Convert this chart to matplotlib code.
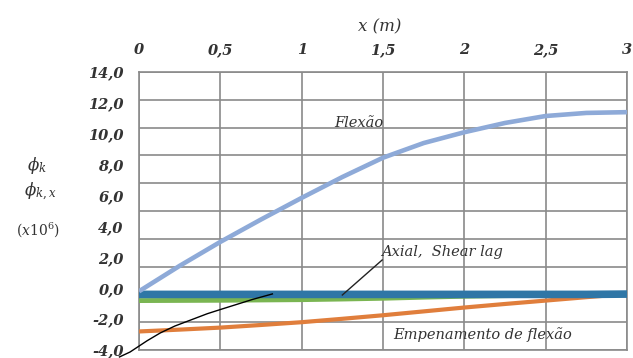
import numpy as np
import matplotlib
matplotlib.use("Agg")
import matplotlib.pyplot as plt

# valores (x em m, rotacoes x10^6)
x_pts = [0, 0.25, 0.5, 0.75, 1.0, 1.25, 1.5, 1.75, 2.0, 2.25, 2.5, 2.75, 3.0]
flexao = [-0.2, 1.45, 3.0, 4.45, 5.85, 7.2, 8.45, 9.4, 10.1, 10.7, 11.15, 11.35, 11.4]
axial = [-0.4, -0.4, -0.4, -0.4, -0.4, -0.4, -0.4, -0.4, -0.4, -0.4, -0.4, -0.4, -0.38]
shear_lag = [-0.8, -0.79, -0.78, -0.76, -0.74, -0.7, -0.65, -0.58, -0.52, -0.48, -0.45, -0.43, -0.42]
empenamento = [-2.8, -2.68, -2.55, -2.38, -2.2, -1.98, -1.75, -1.5, -1.25, -1.02, -0.8, -0.58, -0.37]

# linha de chamada preta (vem de fora do grafico)
leader_x = [-0.12, -0.055, 0.05, 0.13, 0.22, 0.32, 0.42, 0.50, 0.60, 0.70, 0.82]
leader_y = [-4.45, -4.13, -3.4, -2.9, -2.45, -2.05, -1.65, -1.38, -1.05, -0.72, -0.37]
# chamada do texto Axial, Shear lag
axial_arrow_x = [1.495, 1.25]
axial_arrow_y = [1.83, -0.44]

x_ticks = [0, 0.5, 1, 1.5, 2, 2.5, 3]
x_ticklabels = ["0", "0,5", "1", "1,5", "2", "2,5", "3"]
y_ticks = [14, 12, 10, 8, 6, 4, 2, 0, -2, -4]
y_ticklabels = ["14,0", "12,0", "10,0", "8,0", "6,0", "4,0", "2,0", "0,0", "-2,0", "-4,0"]

GRID = "#8a8a8a"
TXT = "#333333"

plt.rcParams["mathtext.fontset"] = "dejavuserif"
fig = plt.figure(figsize=(6.33, 3.58), dpi=100)
ax = fig.add_axes([139 / 633, 1 - 350 / 358, (627 - 139) / 633, (350 - 72) / 358])

ax.set_xlim(0, 3)
ax.set_ylim(-4, 14)

# grelha do Excel (10 divisoes na vertical, nao batem com os rotulos)
for gy in np.linspace(-4, 14, 11):
    ax.axhline(gy, color=GRID, lw=1.2, zorder=1)
for gx in x_ticks:
    ax.axvline(gx, color=GRID, lw=1.2, zorder=1)
for s in ax.spines.values():
    s.set_color(GRID)
    s.set_linewidth(1.2)

ax.plot(x_pts, empenamento, color="#e07e3c", lw=3.0, zorder=3, solid_capstyle="butt")
ax.plot(x_pts, shear_lag, color="#7ab552", lw=3.5, zorder=3, solid_capstyle="butt")
ax.plot(x_pts, axial, color="#2f76a6", lw=5.5, zorder=4, solid_capstyle="butt")
ax.plot(x_pts, flexao, color="#8eaad8", lw=3.3, zorder=5, solid_capstyle="butt")

ax.plot(leader_x, leader_y, color="black", lw=1.0, zorder=6, clip_on=False)
ax.plot(axial_arrow_x, axial_arrow_y, color="#222222", lw=1.0, zorder=6)

lab = dict(family="DejaVu Serif", style="italic", color=TXT, fontsize=10.5)
ax.text(1.2, 10.7, "Flexão", va="center", ha="left", zorder=7, **lab)
ax.text(1.49, 2.35, "Axial,  Shear lag", va="center", ha="left", zorder=7, **lab)
ax.text(1.56, -3.03, "Empenamento de flexão", va="center", ha="left", zorder=7, **lab)

ax.xaxis.tick_top()
ax.set_xticks(x_ticks)
ax.set_xticklabels(x_ticklabels)
ax.set_yticks(y_ticks)
ax.set_yticklabels(y_ticklabels)
ax.tick_params(length=0, pad=11, labelcolor=TXT)
for t in ax.get_xticklabels() + ax.get_yticklabels():
    t.set_family("DejaVu Serif")
    t.set_style("italic")
    t.set_weight("bold")
    t.set_fontsize(10.5)

fig.text(380 / 633, 1 - 27 / 358, "x (m)", ha="center", va="center",
         family="DejaVu Serif", style="italic", fontsize=12, color=TXT)
fig.text(37 / 633, 1 - 166 / 358, r"$\phi_k$", ha="center", va="center", fontsize=12, color=TXT)
fig.text(40 / 633, 1 - 192 / 358, r"$\phi_{k,x}$", ha="center", va="center", fontsize=12, color=TXT)
fig.text(38 / 633, 1 - 230 / 358, r"$(x10^{6})$", ha="center", va="center", fontsize=10, color=TXT)

fig.savefig("out.png", dpi=100)
